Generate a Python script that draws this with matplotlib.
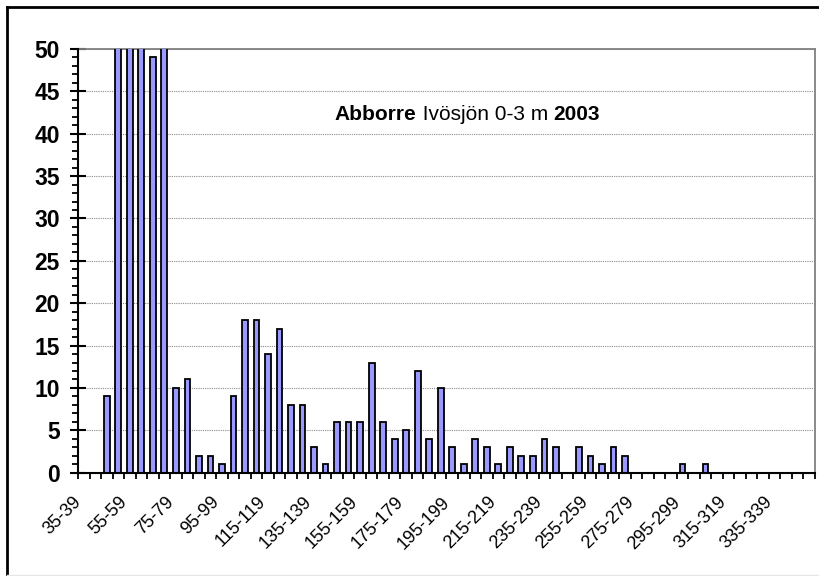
import matplotlib
matplotlib.use("Agg")
import matplotlib.pyplot as plt
from matplotlib.lines import Line2D
from matplotlib.ticker import FixedLocator, MultipleLocator
from matplotlib.transforms import ScaledTranslation

BAR_COLOR = "#9999ff"
GRID_GRAY = "#8c8c8c"

plt.rcParams["font.family"] = ["Liberation Sans", "DejaVu Sans"]

# length classes (mm), 5 mm wide
length_classes = [f"{s}-{s + 4}" for s in range(35, 355, 5)]

# number of fish per class; the classes over 50 are cut off by the axis in the original
counts = [
    0, 0, 9, 62, 86, 73, 49, 58, 10, 11,
    2, 2, 1, 9, 18, 18, 14, 17, 8, 8,
    3, 1, 6, 6, 6, 13, 6, 4, 5, 12,
    4, 10, 3, 1, 4, 3, 1, 3, 2, 2,
    4, 3, 0, 3, 2, 1, 3, 2, 0, 0,
    0, 0, 1, 0, 1, 0, 0, 0, 0, 0,
    0, 0, 0, 0,
]

title_parts = [("Abborre", "bold"), (" Ivösjön 0-3 m ", "normal"), ("2003", "bold")]

fig = plt.figure(figsize=(8.2, 5.76), dpi=100)
ax = fig.add_axes([78 / 820, 1 - 472.7 / 576, (815 - 78) / 820, (472.7 - 49) / 576])

x = list(range(len(counts)))
ax.bar(x, counts, width=0.5, color=BAR_COLOR, edgecolor="black", linewidth=1.3, zorder=3)

ax.set_xlim(-0.5, len(counts) - 0.5)
ax.set_ylim(0, 50)

# y axis: major every 5 (crossing), minor every 1 (outside)
ax.yaxis.set_major_locator(MultipleLocator(5))
ax.yaxis.set_minor_locator(MultipleLocator(1))
ax.tick_params(axis="y", which="major", direction="inout", length=12, width=1.5,
               labelsize=16.5, pad=7)
ax.tick_params(axis="y", which="minor", direction="out", length=4.5, width=1.3)
for lab in ax.get_yticklabels():
    lab.set_fontweight("bold")

# x axis: ticks between categories, label every 4th class
ax.xaxis.set_major_locator(FixedLocator(x[::4]))
ax.set_xticklabels(length_classes[::4], rotation=45, ha="right", va="top",
                   rotation_mode="anchor", fontsize=13)
ax.xaxis.set_minor_locator(FixedLocator([i - 0.5 for i in range(len(counts) + 1)]))
ax.tick_params(axis="x", which="major", length=0, pad=15)
ax.tick_params(axis="x", which="minor", direction="out", length=4.5, width=1.3)
shift = ScaledTranslation(-11 / 100, 0, fig.dpi_scale_trans)
for lab in ax.get_xticklabels():
    lab.set_transform(lab.get_transform() + shift)

ax.grid(axis="y", which="major", color=GRID_GRAY, linestyle=(0, (1, 1)), linewidth=0.8, zorder=0)

for side in ("top", "right"):
    ax.spines[side].set_color("#808080")
    ax.spines[side].set_linewidth(1.3)
for side in ("left", "bottom"):
    ax.spines[side].set_color("black")
    ax.spines[side].set_linewidth(1.5)
    ax.spines[side].set_zorder(4)

# title inside the plot, mixed bold / regular
prev = None
for text, weight in title_parts:
    if prev is None:
        prev = ax.text(21.8, 41.6, text, fontsize=15, fontweight=weight,
                       ha="left", va="baseline", zorder=5)
    else:
        prev = ax.annotate(text, xy=(1, 0), xycoords=prev, fontsize=15,
                           fontweight=weight, ha="left", va="bottom", zorder=5)

# outer chart frame
fig.add_artist(Line2D([7 / 820, 1], [1 - 7 / 576] * 2, transform=fig.transFigure,
                      color="black", linewidth=2))
fig.add_artist(Line2D([7 / 820] * 2, [0, 1 - 7 / 576], transform=fig.transFigure,
                      color="black", linewidth=2))
fig.add_artist(Line2D([7 / 820, 1], [1.2 / 576] * 2, transform=fig.transFigure,
                      color="#e6e6e6", linewidth=1))

fig.savefig("out.png", dpi=100)
